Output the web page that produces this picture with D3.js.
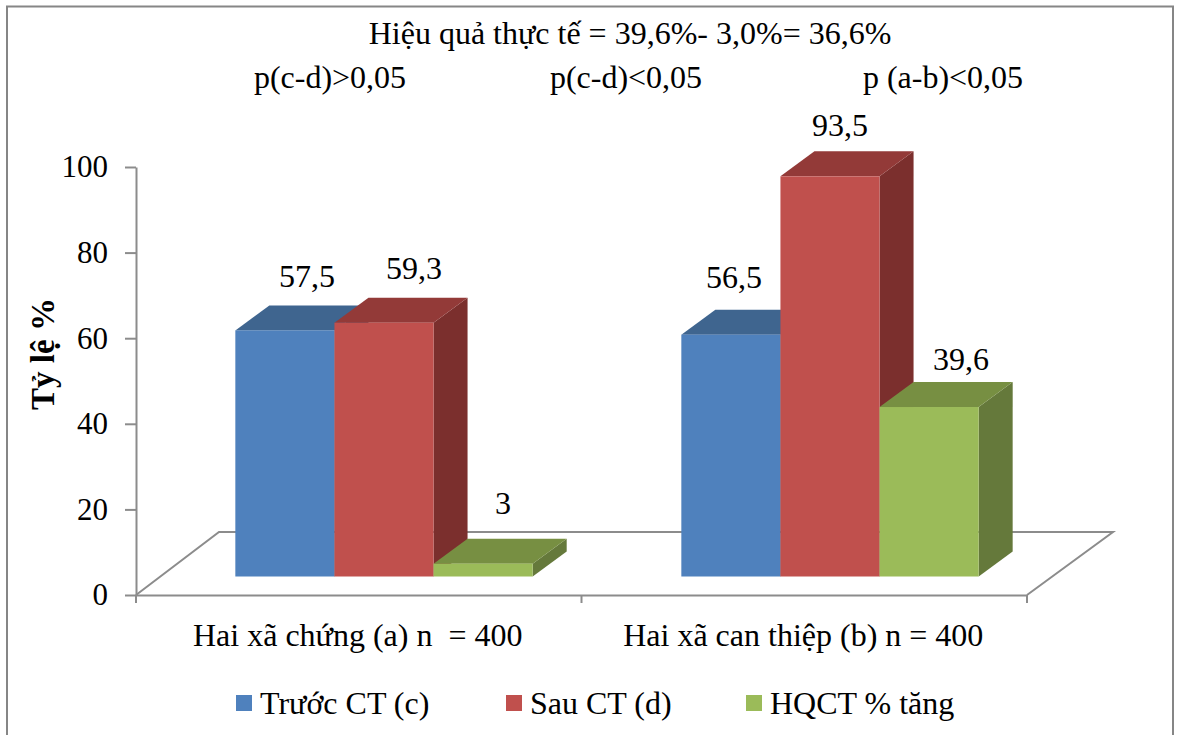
<!DOCTYPE html>
<html>
<head>
<meta charset="utf-8">
<script src="https://cdn.jsdelivr.net/npm/d3@7"></script>
<style>
html, body { margin: 0; padding: 0; background: #fff; }
svg { display: block; }
text { font-family: "Liberation Serif", serif; fill: #000; }
</style>
</head>
<body>
<div id="chart"></div>
<script>
// Chart values
const categories = ["Hai xã chứng (a) n  = 400", "Hai xã can thiệp (b) n = 400"];
const seriesNames = ["Trước CT (c)", "Sau CT (d)", "HQCT % tăng"];
const beforeValues = [57.5, 56.5];
const afterValues = [59.3, 93.5];
const gainValues = [3, 39.6];
const yTicks = [0, 20, 40, 60, 80, 100];
const headerLines = ["Hiệu quả thực tế = 39,6%- 3,0%= 36,6%"];
const significanceNotes = ["p(c-d)>0,05", "p(c-d)<0,05", "p (a-b)<0,05"];

// Layout
const width = 1177, height = 735;
const axisLeft = 136, axisRight = 1027, axisBottom = 595, axisTop = 167;
const depthX = 34, depthY = 25;       // oblique offset of the bar depth
const barLift = 18.5;                 // bars stand this far behind the front floor edge
const floorDX = 83, floorDY = 63;     // oblique offset of the floor plane
const axisColor = "#8c8c8c";
const fontSize = "32px";

const palette = [
  { front: "#4f81bd", top: "#3f658f", side: "#36587f" },
  { front: "#c0504d", top: "#933a38", side: "#7b2f2d" },
  { front: "#9bbb59", top: "#778f42", side: "#65793b" }
];

// Nudges of each value label from the top of its bar, hand-placed in the chart
const labelNudges = [
  [[22, -54], [30, -55], [20, -61]],
  [[3, -58], [10, -51], [32, -48]]
];
const noteX = [330, 626, 943];

const y = d3.scaleLinear().domain([0, 100]).range([axisBottom, axisTop]);
const xAxisScale = d3.scaleBand().domain(categories).range([axisLeft, axisRight]);
const xGroup = d3.scaleBand().domain(categories).range([axisLeft + 25, axisRight + 26]);
const xBar = d3.scaleBand().domain(seriesNames).range([0, xGroup.bandwidth()])
  .paddingInner(0).paddingOuter(0.75);

const rows = [beforeValues, afterValues, gainValues];

const svg = d3.select("#chart").append("svg")
  .attr("width", width).attr("height", height);

svg.append("rect").attr("width", width).attr("height", height).attr("fill", "#fff");

// Outer chart frame
svg.append("path")
  .attr("d", `M7,${height + 2} V6.5 H1173 V${height + 2}`)
  .attr("fill", "none").attr("stroke", "#868686").attr("stroke-width", 2);

// Floor outline
const floorPath = d3.path();
floorPath.moveTo(axisLeft, axisBottom);
floorPath.lineTo(axisLeft + floorDX, axisBottom - floorDY);
floorPath.lineTo(axisRight + floorDX + 3, axisBottom - floorDY);
floorPath.lineTo(axisRight, axisBottom);
svg.append("path").attr("d", floorPath.toString())
  .attr("fill", "none").attr("stroke", axisColor).attr("stroke-width", 2);

// Value axis
const yAxis = d3.axisLeft(y).tickValues(yTicks).tickSize(11).tickPadding(17).tickSizeOuter(0);
const yG = svg.append("g").attr("transform", `translate(${axisLeft},0)`).call(yAxis);
yG.selectAll("line, path").attr("stroke", axisColor).attr("stroke-width", 2);
yG.selectAll("text").style("font-family", '"Liberation Serif", serif')
  .style("font-size", "31px").attr("fill", "#000").attr("dy", "0.32em");

// Category axis
const xAxis = d3.axisBottom(xAxisScale).tickFormat("").tickSize(0).tickSizeOuter(0);
const xG = svg.append("g").attr("transform", `translate(0,${axisBottom})`).call(xAxis);
xG.selectAll("path").attr("stroke", axisColor).attr("stroke-width", 2);
xG.selectAll(".tick").remove();
const xBoundaries = [axisLeft, xAxisScale(categories[1]), axisRight];
xG.selectAll("line.boundary").data(xBoundaries).join("line")
  .attr("class", "boundary")
  .attr("x1", d => d).attr("x2", d => d).attr("y1", 0).attr("y2", 8)
  .attr("stroke", axisColor).attr("stroke-width", 2);

svg.selectAll("text.category").data(categories).join("text")
  .attr("class", "category")
  .attr("x", d => xAxisScale(d) + xAxisScale.bandwidth() / 2 - 1)
  .attr("y", 646)
  .attr("text-anchor", "middle")
  .style("font-size", fontSize)
  .style("white-space", "pre")
  .attr("xml:space", "preserve")
  .text(d => d);

// 3D bars, back-to-front within each group
categories.forEach((cat, ci) => {
  seriesNames.forEach((name, si) => {
    const v = rows[si][ci];
    const x0 = xGroup(cat) + xBar(name);
    const x1 = x0 + xBar.bandwidth();
    const yTop = y(v) - barLift;
    const yBase = y(0) - barLift;
    const c = palette[si];
    const g = svg.append("g").attr("class", "bar");
    g.append("polygon")
      .attr("points", [[x1, yTop], [x1 + depthX, yTop - depthY], [x1 + depthX, yBase - depthY], [x1, yBase]].join(" "))
      .attr("fill", c.side);
    g.append("polygon")
      .attr("points", [[x0, yTop], [x0 + depthX, yTop - depthY], [x1 + depthX, yTop - depthY], [x1, yTop]].join(" "))
      .attr("fill", c.top);
    g.append("rect")
      .attr("x", x0).attr("y", yTop)
      .attr("width", x1 - x0).attr("height", yBase - yTop)
      .attr("fill", c.front);
  });
});

// Value labels use a decimal comma
categories.forEach((cat, ci) => {
  seriesNames.forEach((name, si) => {
    const v = rows[si][ci];
    const [nx, ny] = labelNudges[ci][si];
    svg.append("text")
      .attr("class", "value")
      .attr("x", xGroup(cat) + xBar(name) + xBar.bandwidth() / 2 + nx)
      .attr("y", y(v) - barLift + ny + 11)
      .attr("text-anchor", "middle")
      .style("font-size", fontSize)
      .text(String(v).replace(".", ","));
  });
});

// Value axis title
svg.append("text")
  .attr("transform", "translate(54,354) rotate(-90)")
  .attr("text-anchor", "middle")
  .style("font-size", "33px")
  .style("font-weight", "bold")
  .text("Tỷ lệ %");

// Header text above the plot
svg.append("text")
  .attr("x", 630).attr("y", 44)
  .attr("text-anchor", "middle")
  .style("font-size", fontSize)
  .text(headerLines[0]);

svg.selectAll("text.note").data(significanceNotes).join("text")
  .attr("class", "note")
  .attr("x", (d, i) => noteX[i]).attr("y", 88)
  .attr("text-anchor", "middle")
  .style("font-size", fontSize)
  .text(d => d);

// Legend
const legendSwatchX = [236, 506, 746];
const legendG = svg.selectAll("g.legend").data(seriesNames).join("g")
  .attr("class", "legend")
  .attr("transform", (d, i) => `translate(${legendSwatchX[i]},695)`);
legendG.append("rect").attr("width", 16).attr("height", 16)
  .attr("fill", (d, i) => palette[i].front);
legendG.append("text").attr("x", 24).attr("y", 19)
  .style("font-size", fontSize)
  .text(d => d);
</script>
</body>
</html>
